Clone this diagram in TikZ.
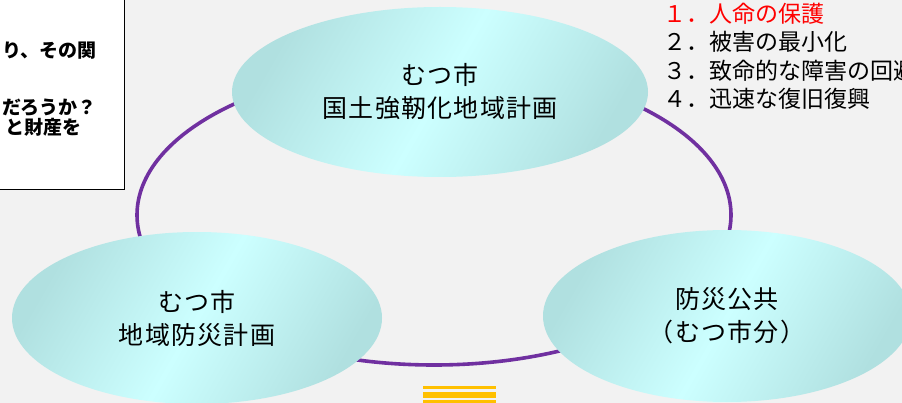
\documentclass[tikz,border=0pt]{standalone}
\usepackage{fontspec}
\setmainfont{Noto Sans CJK JP}
\newfontfamily\cjk{Noto Sans CJK JP}
\usetikzlibrary{shapes.geometric}
\definecolor{bgc}{HTML}{F2F2F2}
\definecolor{ringc}{HTML}{7030A0}
\definecolor{elldark}{HTML}{B0E0E0}
\definecolor{elllight}{HTML}{CCFFFF}
\definecolor{goldc}{HTML}{FFC000}
\definecolor{redc}{HTML}{FF0000}
\tikzset{
  ell/.style={ellipse, inner sep=0pt, align=center,
    top color=elldark, bottom color=elldark, middle color=elllight,
    shading angle=60,
    font=\cjk\fontsize{25}{33}\selectfont\addfontfeatures{LetterSpace=5}, text=black},
  ring/.style={draw=ringc, line width=3.6pt},
  memobox/.style={draw=black, fill=white, line width=1pt, inner sep=0pt},
  memotext/.style={inner sep=0pt, font=\cjk\bfseries\fontsize{19}{22}\selectfont, text=black},
  listtext/.style={inner sep=0pt, font=\cjk\fontsize{23}{28}\selectfont, text=black},
  bar/.style={fill=goldc}
}
\begin{document}
\begin{tikzpicture}[x=1pt,y=-1pt]
\useasboundingbox (0,0) rectangle (902,403);
\clip (0,0) rectangle (902,403);
\fill[bgc] (0,0) rectangle (902,403);
% memo box
\node (memo) [memobox, minimum width=160pt, minimum height=210pt, anchor=south east] at (124.5,190.5) {};
\node (m1) [memotext, anchor=base east] at (97,58) {り、その関};
\node (m2) [memotext, anchor=base east] at (97,115) {だろうか？};
\node (m3) [memotext, anchor=base east] at (82,135) {と財産を};
% ring
\coordinate (ringc) at (434,215);
\draw[ring] (ringc) ellipse [x radius=297, y radius=150];
% ellipses
\node (top) [ell, minimum width=416pt, minimum height=170pt] at (440,92) {むつ市\\国土強靭化地域計画};
\node (bl) [ell, minimum width=370pt, minimum height=172pt] at (197,318) {むつ市\\地域防災計画};
\node (br) [ell, minimum width=368pt, minimum height=172pt] at (727,316) {防災公共\\（むつ市分）};
% list
\node (l1) [listtext, anchor=base west, text=redc] at (663,23) {１．人命の保護};
\node (l2) [listtext, anchor=base west] at (663,51) {２．被害の最小化};
\node (l3) [listtext, anchor=base west] at (663,80) {３．致命的な障害の回避};
\node (l4) [listtext, anchor=base west] at (663,108) {４．迅速な復旧復興};
% yellow bars
\fill[bar] (423,386) rectangle (496,389);
\fill[bar] (423,392) rectangle (496,397.5);
\fill[bar] (423,400) rectangle (496,406);
\end{tikzpicture}
\end{document}
